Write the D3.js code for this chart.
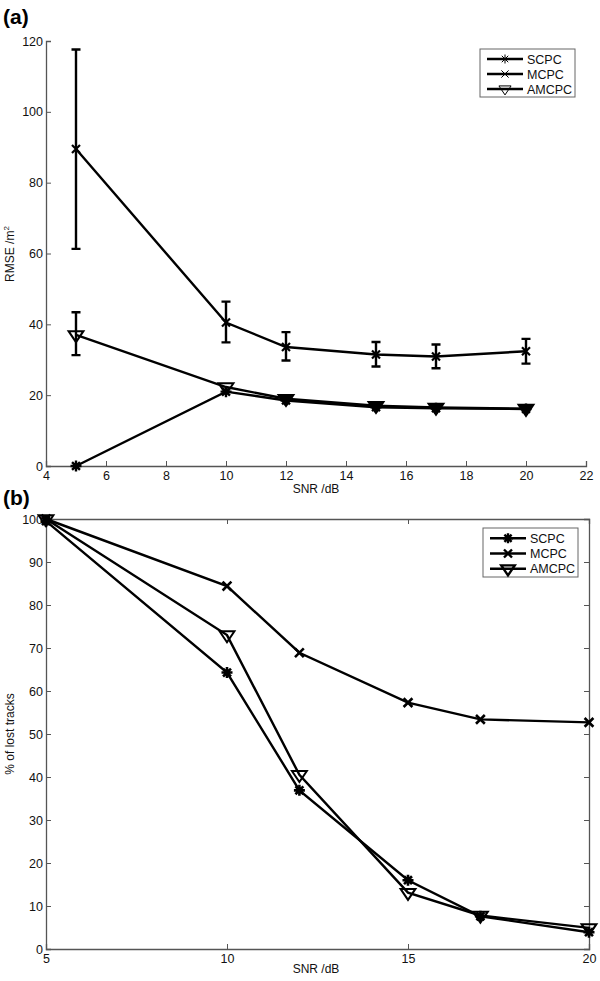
<!DOCTYPE html>
<html><head><meta charset="utf-8">
<script src="https://cdn.jsdelivr.net/npm/d3@7/dist/d3.min.js"></script>
<style>body{margin:0;background:#fff}svg{display:block;font-family:"Liberation Sans",Arial,sans-serif}</style>
</head><body><svg id="c" width="600" height="981"></svg>
<script>
// ---- Data ----
const snr = [5, 10, 12, 15, 17, 20];
const seriesNames = ["SCPC", "MCPC", "AMCPC"];
// Panel (a): RMSE /m^2
const rmseSCPC  = [0, 21, 18.5, 16.6, 16.3, 16.1];
const rmseMCPC  = [89.5, 40.5, 33.6, 31.5, 30.9, 32.4];
const rmseAMCPC = [37.0, 22.3, 19.0, 17.0, 16.5, 16.2];
const errMCPCLow  = [61.3, 34.9, 29.8, 28.1, 27.6, 28.9];
const errMCPCHigh = [117.6, 46.4, 37.8, 35.0, 34.3, 35.9];
const errAMCPCLow  = [31.3, null, null, null, null, null];
const errAMCPCHigh = [43.4, null, null, null, null, null];
const ticksAX = [4, 6, 8, 10, 12, 14, 16, 18, 20, 22];
const ticksAY = [0, 20, 40, 60, 80, 100, 120];
// Panel (b): % of lost tracks
const lostSCPC  = [99.5, 64.3, 36.9, 16.0, 7.6, 3.9];
const lostMCPC  = [100, 84.4, 68.9, 57.3, 53.4, 52.7];
const lostAMCPC = [100, 73.0, 40.5, 13.1, 7.8, 4.9];
const ticksBX = [5, 10, 15, 20];
const ticksBY = [0, 10, 20, 30, 40, 50, 60, 70, 80, 90, 100];

const svg = d3.select("#c");
const axisCol = "#555";

function marker(g, type, x, y, s, sw) {
  const p = d3.path();
  if (type === "star") {
    p.moveTo(x - s, y); p.lineTo(x + s, y);
    p.moveTo(x, y - s); p.lineTo(x, y + s);
    const d = s * 0.72;
    p.moveTo(x - d, y - d); p.lineTo(x + d, y + d);
    p.moveTo(x - d, y + d); p.lineTo(x + d, y - d);
    g.append("path").attr("d", p.toString()).attr("stroke", "#000").attr("stroke-width", sw).attr("fill", "none");
  } else if (type === "x") {
    const d = s * 0.8;
    p.moveTo(x - d, y - d); p.lineTo(x + d, y + d);
    p.moveTo(x - d, y + d); p.lineTo(x + d, y - d);
    g.append("path").attr("d", p.toString()).attr("stroke", "#000").attr("stroke-width", sw).attr("fill", "none");
  } else {
    const w = s * 1.35, h = s * 1.25;
    p.moveTo(x - w, y - h * 0.55); p.lineTo(x + w, y - h * 0.55); p.lineTo(x, y + h * 1.05); p.closePath();
    g.append("path").attr("d", p.toString()).attr("stroke", "#000").attr("stroke-width", sw).attr("fill", "none").attr("stroke-linejoin", "miter");
  }
}
const markerTypes = ["star", "x", "tri"];

function drawSeries(g, x, y, vals, type, ms, msw) {
  const line = d3.line().x((d, i) => x(snr[i])).y(d => y(d));
  g.append("path").datum(vals).attr("d", line).attr("fill", "none").attr("stroke", "#000").attr("stroke-width", 2.4);
  vals.forEach((v, i) => marker(g, type, x(snr[i]), y(v), ms, msw));
}

function errorBars(g, x, y, lo, hi) {
  lo.forEach((l, i) => {
    if (l == null) return;
    const cx = x(snr[i]), y1 = y(l), y2 = y(hi[i]);
    const p = d3.path();
    p.moveTo(cx, y1); p.lineTo(cx, y2);
    p.moveTo(cx - 4.5, y1); p.lineTo(cx + 4.5, y1);
    p.moveTo(cx - 4.5, y2); p.lineTo(cx + 4.5, y2);
    g.append("path").attr("d", p.toString()).attr("stroke", "#000").attr("stroke-width", 2.4).attr("fill", "none");
  });
}

function styleAxis(sel) {
  sel.selectAll(".domain").attr("stroke", axisCol).attr("stroke-width", 1.3);
  sel.selectAll(".tick line").attr("stroke", axisCol).attr("stroke-width", 1);
  sel.selectAll(".tick text").attr("fill", "#111").style("font-size", "12.5px").style("font-family", '"Liberation Sans",Arial,sans-serif');
}

function legend(g, x0, y0, w, h, ms, msw) {
  g.append("rect").attr("x", x0).attr("y", y0).attr("width", w).attr("height", h).attr("fill", "#fff").attr("stroke", "#666").attr("stroke-width", 1);
  const step = h / 3.2;
  seriesNames.forEach((n, i) => {
    const yy = y0 + step * (i + 0.6) + 1;
    g.append("line").attr("x1", x0 + 7).attr("x2", x0 + 43).attr("y1", yy).attr("y2", yy).attr("stroke", "#000").attr("stroke-width", 2.4);
    marker(g, markerTypes[i], x0 + 25, yy, ms, msw);
    g.append("text").attr("x", x0 + 47).attr("y", yy + 4.5).text(n).style("font-size", "12.5px").attr("fill", "#111");
  });
}

// ---------- Panel (a) ----------
{
  const x = d3.scaleLinear().domain([4, 22]).range([46, 586]);
  const y = d3.scaleLinear().domain([0, 120]).range([466, 41]);
  const g = svg.append("g");
  const ax = g.append("g").attr("transform", "translate(0,466)")
    .call(d3.axisBottom(x).tickValues(ticksAX).tickSize(-5).tickPadding(5).tickFormat(d3.format("d")));
  styleAxis(ax);
  const ay = g.append("g").attr("transform", "translate(46,0)")
    .call(d3.axisLeft(y).tickValues(ticksAY).tickSize(-5).tickPadding(3).tickFormat(d3.format("d")));
  styleAxis(ay);

  errorBars(g, x, y, errMCPCLow, errMCPCHigh);
  errorBars(g, x, y, errAMCPCLow, errAMCPCHigh);
  drawSeries(g, x, y, rmseMCPC, "x", 5, 2.2);
  drawSeries(g, x, y, rmseAMCPC, "tri", 5.5, 2);
  drawSeries(g, x, y, rmseSCPC, "star", 5.5, 2.4);
  // filled look where triangles overlap asterisks
  rmseAMCPC.forEach((v, i) => { if (i >= 2) {
    const cx = x(snr[i]), cy = y(v), s = 5.5, w = s * 1.35, h = s * 1.25;
    g.append("path").attr("d", `M${cx - w},${cy - h * 0.55}L${cx + w},${cy - h * 0.55}L${cx},${cy + h * 1.05}Z`).attr("fill", "#000");
  }});

  g.append("text").attr("x", 316).attr("y", 493).attr("text-anchor", "middle").text("SNR /dB").style("font-size", "12px").attr("fill", "#111");
  const yl = g.append("text").attr("transform", "translate(14,254) rotate(-90)").attr("text-anchor", "middle").style("font-size", "12px").attr("fill", "#111");
  yl.append("tspan").text("RMSE /m");
  yl.append("tspan").text("2").attr("dy", -5).style("font-size", "8px");
  g.append("text").attr("x", 3).attr("y", 24).text("(a)").style("font-size", "21px").style("font-weight", "bold");
  legend(g, 480, 49, 95, 48, 4.5, 1);
}

// ---------- Panel (b) ----------
{
  const x = d3.scaleLinear().domain([5, 20]).range([46, 589]);
  const y = d3.scaleLinear().domain([0, 100]).range([949, 519]);
  const g = svg.append("g");
  const ax = g.append("g").attr("transform", "translate(0,949)")
    .call(d3.axisBottom(x).tickValues(ticksBX).tickSize(-5).tickPadding(5).tickFormat(d3.format("d")));
  styleAxis(ax);
  const axT = g.append("g").attr("transform", "translate(0,519)")
    .call(d3.axisTop(x).tickValues(ticksBX).tickSize(-5).tickFormat(""));
  styleAxis(axT);
  const ay = g.append("g").attr("transform", "translate(46,0)")
    .call(d3.axisLeft(y).tickValues(ticksBY).tickSize(-5).tickPadding(3).tickFormat(d3.format("d")));
  styleAxis(ay);
  const ayR = g.append("g").attr("transform", "translate(589,0)")
    .call(d3.axisRight(y).tickValues(ticksBY).tickSize(-5).tickFormat(""));
  styleAxis(ayR);

  drawSeries(g, x, y, lostMCPC, "x", 5.5, 2.6);
  drawSeries(g, x, y, lostAMCPC, "tri", 5.5, 2);
  drawSeries(g, x, y, lostSCPC, "star", 5.5, 2.6);

  g.append("text").attr("x", 316).attr("y", 973).attr("text-anchor", "middle").text("SNR /dB").style("font-size", "12px").attr("fill", "#111");
  g.append("text").attr("transform", "translate(14,734) rotate(-90)").attr("text-anchor", "middle").text("% of lost tracks").style("font-size", "12px").attr("fill", "#111");
  g.append("text").attr("x", 3).attr("y", 505).text("(b)").style("font-size", "21px").style("font-weight", "bold");
  legend(g, 483, 528, 95, 49, 5, 2.4);
}
</script></body></html>
